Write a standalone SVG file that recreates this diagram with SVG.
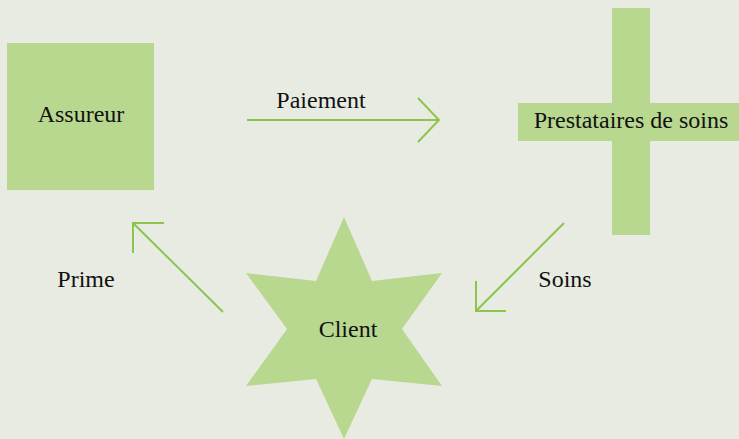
<svg xmlns="http://www.w3.org/2000/svg" width="739" height="439" viewBox="0 0 739 439">
<style>
.shape{fill:#b8d78f;stroke:none}
.lbl{font-family:"Liberation Serif","DejaVu Serif",serif;font-size:24px;fill:#111}
.conn{fill:none;stroke:#8dc44e;stroke-width:2;stroke-linecap:butt;stroke-linejoin:miter}
</style>
<rect width="739" height="439" fill="#e8ebe2"/>
<g id="assureur">
<rect class="shape" x="7" y="43" width="147" height="147"/>
<text class="lbl" x="81" y="122" text-anchor="middle">Assureur</text>
</g>
<g id="prestataires">
<rect class="shape" x="612" y="8" width="38" height="227"/>
<rect class="shape" x="518" y="103" width="226" height="38"/>
<text class="lbl" x="631" y="128" text-anchor="middle">Prestataires de soins</text>
</g>
<g id="client">
<polygon class="shape" points="344,217 372,281 442,273 402,329 442,386 372,379 344,439 316,379 246,386 287,329 246,273 316,281"/>
<text class="lbl" x="348" y="337" text-anchor="middle">Client</text>
</g>
<g id="connectors">
<g id="paiement">
<path class="conn" d="M247,120 H438 M418,98 L439,120 L418,142"/>
<text class="lbl" x="321" y="108" text-anchor="middle">Paiement</text>
</g>
<g id="soins">
<path class="conn" d="M564,223 L476,311 M476,281 V311 H506"/>
<text class="lbl" x="565" y="287" text-anchor="middle">Soins</text>
</g>
<g id="prime">
<path class="conn" d="M223,312 L133,223 M164,223 H133 V253"/>
<text class="lbl" x="86" y="287" text-anchor="middle">Prime</text>
</g>
</g>
</svg>
